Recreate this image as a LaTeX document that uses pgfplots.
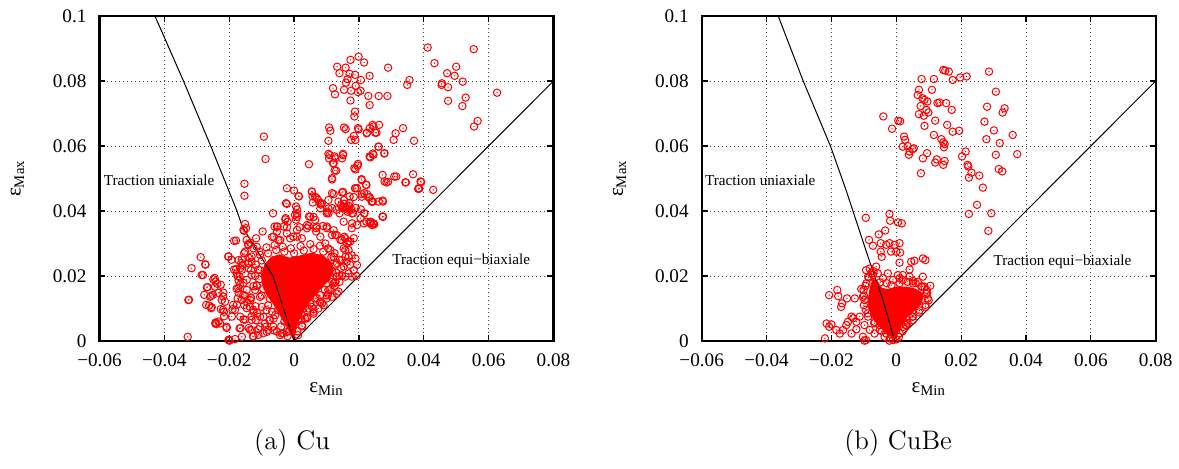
\documentclass[border=0pt]{standalone}
\usepackage{fontspec}
\usepackage{pgfplots}
\pgfplotsset{compat=1.18}
\newfontfamily\pf{Liberation Serif}
\pgfdeclareplotmark{cdot}{%
  \pgfpathcircle{\pgfpointorigin}{\pgfplotmarksize}\pgfusepathqstroke
  \pgfpathcircle{\pgfpointorigin}{0.35pt}\pgfusepathqfill}
\tikzset{lab/.style={font=\pf\fontsize{7.6}{9}\selectfont, anchor=west, inner sep=0pt}}
\pgfplotsset{
  myax/.style={
    scale only axis, width=227pt, height=162.5pt,
    xmin=-0.06,xmax=0.08,ymin=0,ymax=0.1,
    xtick={-0.06,-0.04,-0.02,0,0.02,0.04,0.06,0.08},
    xticklabels={−0.06,−0.04,−0.02,0,0.02,0.04,0.06,0.08},
    ytick={0,0.02,0.04,0.06,0.08,0.1},
    yticklabels={0,0.02,0.04,0.06,0.08,0.1},
    scaled ticks=false,
    grid=major,
    grid style={black!75, line width=0.45pt, dash pattern=on 0.5pt off 1.5pt},
    axis line style={line width=1.1pt},
    tick style={black, line width=0.6pt},
    major tick length=3pt,
    tick align=inside,
    tick label style={font=\pf\fontsize{9.6}{11}\selectfont},
    xticklabel style={yshift=-3pt},
    yticklabel style={xshift=-3pt},
    xlabel={ε\textsubscript{Min}},
    ylabel={ε\textsubscript{Max}},
    label style={font=\pf\fontsize{10.5}{12}\selectfont},
    xlabel style={at={(axis description cs:0.5,-0.148)}, anchor=center},
    ylabel style={at={(axis description cs:-0.1806,0.5)}, anchor=center},
    clip=false,
  },
  pts/.style={only marks, mark=cdot, mark size=1.85pt, mark options={draw=red, fill=red, line width=0.5pt}},
  core/.style={fill=red, draw=red, line width=0.5pt, mark=none},
  thin/.style={black, line width=0.5pt, mark=none},
}
\begin{document}
\begin{tikzpicture}
\useasboundingbox (0,0) rectangle (589.5pt,234pt);
% ---------------- (a) Cu ----------------
\begin{axis}[myax, at={(49.75pt,63.5pt)}, anchor=south west]
\addplot[core] coordinates {(-0.0003,0.0010) (-0.0020,0.0040) (-0.0040,0.0075) (-0.0062,0.0112) (-0.0085,0.0145) (-0.0098,0.0175) (-0.0100,0.0205) (-0.0090,0.0235) (-0.0070,0.0258) (-0.0045,0.0265) (-0.0015,0.0255) (0.0020,0.0262) (0.0055,0.0270) (0.0090,0.0262) (0.0115,0.0240) (0.0120,0.0210) (0.0105,0.0185) (0.0080,0.0160) (0.0055,0.0130) (0.0030,0.0095) (0.0012,0.0060) (0.0003,0.0025)} -- cycle;
\addplot[pts] table {
x y
0.0412 0.0903
0.0554 0.0898
0.0433 0.0855
0.0500 0.0844
0.0472 0.0824
0.0495 0.0816
0.0356 0.0803
0.0349 0.0788
0.0455 0.0788
0.0456 0.0793
0.0475 0.0781
0.0520 0.0798
0.0626 0.0764
0.0529 0.0749
0.0475 0.0739
0.0519 0.0723
0.0566 0.0677
0.0555 0.0660
0.0290 0.0841
0.0261 0.0754
0.0288 0.0754
0.0229 0.0754
0.0233 0.0726
0.0233 0.0816
0.0216 0.0857
0.0199 0.0875
0.0174 0.0865
0.0133 0.0844
0.0159 0.0841
0.0140 0.0824
0.0171 0.0822
0.0188 0.0819
0.0165 0.0806
0.0160 0.0795
0.0206 0.0803
0.0190 0.0785
0.0154 0.0773
0.0176 0.0770
0.0197 0.0766
0.0205 0.0770
0.0120 0.0778
0.0126 0.0759
0.0174 0.0740
0.0188 0.0706
0.0186 0.0691
0.0108 0.0657
0.0112 0.0647
0.0154 0.0657
0.0159 0.0652
0.0197 0.0655
0.0233 0.0655
0.0242 0.0665
0.0262 0.0665
0.0250 0.0641
0.0224 0.0639
0.0184 0.0631
0.0176 0.0619
0.0313 0.0639
0.0307 0.0619
0.0336 0.0655
0.0370 0.0616
0.0106 0.0616
0.0261 0.0598
0.0233 0.0568
0.0245 0.0573
0.0279 0.0578
0.0106 0.0576
0.0108 0.0562
0.0125 0.0568
0.0151 0.0576
0.0148 0.0562
0.0120 0.0547
0.0197 0.0545
0.0186 0.0532
0.0125 0.0525
0.0046 0.0544
-0.0093 0.0629
-0.0088 0.0560
0.0117 0.0501
0.0208 0.0498
0.0222 0.0481
0.0273 0.0511
0.0279 0.0491
0.0285 0.0488
0.0315 0.0506
0.0345 0.0488
0.0367 0.0513
0.0390 0.0491
0.0383 0.0468
0.0429 0.0465
0.0188 0.0470
0.0117 0.0455
0.0148 0.0457
0.0216 0.0455
0.0233 0.0443
0.0239 0.0429
0.0273 0.0432
0.0273 0.0383
0.0233 0.0365
0.0245 0.0361
0.0205 0.0378
0.0190 0.0409
0.0216 0.0393
0.0137 0.0429
0.0154 0.0434
0.0171 0.0424
0.0163 0.0412
0.0148 0.0409
0.0176 0.0405
0.0165 0.0398
0.0182 0.0393
0.0140 0.0393
0.0154 0.0422
0.0131 0.0404
0.0171 0.0445
0.0158 0.0408
0.0145 0.0418
0.0168 0.0416
0.0074 0.0434
0.0085 0.0424
0.0057 0.0445
0.0102 0.0398
0.0106 0.0393
0.0117 0.0409
0.0000 0.0463
0.0015 0.0445
-0.0025 0.0424
0.0006 0.0414
0.0003 0.0388
0.0055 0.0460
0.0046 0.0383
0.0006 0.0373
-0.0065 0.0393
-0.0153 0.0484
-0.0153 0.0447
-0.0026 0.0378
-0.0051 0.0352
-0.0097 0.0337
-0.0154 0.0339
-0.0179 0.0309
-0.0142 0.0298
-0.0288 0.0258
-0.0273 0.0235
-0.0316 0.0224
-0.0285 0.0203
-0.0324 0.0127
-0.0328 0.0013
-0.0201 0.0004
-0.0182 0.0006
-0.0203 0.0260
-0.0193 0.0250
-0.0245 0.0194
-0.0242 0.0183
-0.0226 0.0173
-0.0267 0.0166
-0.0277 0.0142
-0.0256 0.0139
-0.0233 0.0148
-0.0219 0.0137
-0.0262 0.0109
-0.0256 0.0101
-0.0219 0.0096
-0.0216 0.0076
-0.0242 0.0057
-0.0233 0.0060
-0.0208 0.0040
-0.0190 0.0098
-0.0176 0.0112
-0.0171 0.0148
-0.0167 0.0173
-0.0174 0.0199
-0.0179 0.0221
-0.0163 0.0240
-0.0154 0.0270
-0.0137 0.0255
-0.0151 0.0066
-0.0165 0.0040
-0.0140 0.0040
-0.0125 0.0014
-0.0131 0.0076
-0.0114 0.0086
-0.0119 0.0107
-0.0145 0.0119
-0.0133 0.0132
0.0199 0.0651
0.0189 0.0618
0.0225 0.0641
0.0245 0.0660
0.0254 0.0641
0.0110 0.0572
0.0127 0.0562
0.0122 0.0547
0.0151 0.0572
0.0130 0.0524
0.0117 0.0497
0.0189 0.0528
0.0196 0.0540
0.0243 0.0577
0.0235 0.0565
0.0260 0.0598
0.0278 0.0577
0.0290 0.0490
0.0309 0.0506
0.0343 0.0488
0.0384 0.0470
0.0209 0.0495
0.0223 0.0480
0.0189 0.0470
0.0209 0.0452
0.0230 0.0442
0.0240 0.0429
0.0274 0.0383
0.0217 0.0393
0.0206 0.0405
0.0223 0.0367
0.0235 0.0362
0.0247 0.0359
0.0151 0.0459
0.0122 0.0452
0.0055 0.0459
0.0070 0.0439
0.0058 0.0426
0.0083 0.0420
0.0081 0.0408
0.0106 0.0408
0.0101 0.0393
0.0009 0.0391
0.0050 0.0383
0.0065 0.0372
0.0045 0.0354
0.0068 0.0347
-0.0027 0.0374
-0.0022 0.0350
0.0017 0.0350
-0.0060 0.0352
-0.0117 0.0316
-0.0151 0.0360
-0.0156 0.0342
0.0101 0.0352
0.0122 0.0341
0.0132 0.0326
0.0178 0.0347
0.0194 0.0357
0.0158 0.0316
0.0168 0.0306
0.0184 0.0316
0.0243 0.0429
0.0274 0.0429
0.0274 0.0382
0.0245 0.0360
0.0392 0.0489
0.0386 0.0469
-0.0244 0.0167
-0.0250 0.0142
-0.0240 0.0052
-0.0228 0.0054
-0.0216 0.0090
-0.0213 0.0121
-0.0202 0.0003
-0.0185 0.0220
-0.0171 0.0186
-0.0174 0.0131
-0.0177 0.0161
-0.0185 0.0308
-0.0161 0.0251
-0.0158 0.0234
-0.0161 0.0219
-0.0168 0.0198
-0.0156 0.0179
-0.0146 0.0157
-0.0151 0.0139
-0.0154 0.0111
-0.0156 0.0066
-0.0136 0.0034
-0.0161 0.0013
-0.0127 0.0015
-0.0110 0.0036
-0.0118 0.0064
-0.0125 0.0090
-0.0136 0.0105
-0.0133 0.0134
-0.0125 0.0169
-0.0141 0.0239
-0.0133 0.0218
-0.0148 0.0347
-0.0135 0.0302
-0.0125 0.0285
-0.0107 0.0275
-0.0105 0.0136
-0.0099 0.0105
-0.0094 0.0074
-0.0089 0.0043
-0.0076 0.0064
-0.0068 0.0090
-0.0063 0.0033
-0.0063 0.0069
-0.0084 0.0028
-0.0038 0.0023
-0.0022 0.0028
-0.0022 0.0470
-0.0020 0.0367
0.0009 0.0405
0.0009 0.0382
0.0014 0.0446
-0.0022 0.0422
-0.0032 0.0352
-0.0053 0.0336
-0.0068 0.0320
-0.0048 0.0310
-0.0002 0.0321
0.0009 0.0342
0.0024 0.0316
0.0040 0.0347
0.0060 0.0382
0.0065 0.0444
0.0080 0.0424
0.0106 0.0434
0.0089 0.0354
0.0068 0.0337
0.0096 0.0300
0.0127 0.0326
0.0153 0.0367
0.0178 0.0393
0.0153 0.0413
0.0163 0.0405
0.0184 0.0443
0.0209 0.0444
0.0194 0.0470
0.0225 0.0452
0.0215 0.0362
0.0236 0.0367
0.0245 0.0362
0.0261 0.0429
0.0155 0.0321
0.0147 0.0311
0.0163 0.0300
0.0173 0.0306
0.0153 0.0285
0.0168 0.0280
0.0158 0.0259
0.0178 0.0264
0.0163 0.0244
0.0173 0.0234
0.0153 0.0229
0.0184 0.0218
0.0168 0.0208
0.0158 0.0198
0.0178 0.0198
0.0194 0.0234
0.0189 0.0254
0.0147 0.0249
0.0192 0.0200
0.0137 0.0152
0.0140 0.0182
0.0122 0.0177
0.0106 0.0157
0.0101 0.0131
0.0086 0.0115
0.0075 0.0100
0.0060 0.0090
0.0040 0.0074
0.0024 0.0080
0.0029 0.0100
0.0050 0.0115
0.0065 0.0131
0.0080 0.0141
0.0112 0.0280
0.0122 0.0259
0.0132 0.0239
0.0117 0.0214
0.0132 0.0198
-0.0274 0.0236
-0.0281 0.0203
-0.0249 0.0190
-0.0237 0.0176
-0.0269 0.0165
-0.0326 0.0126
-0.0259 0.0136
-0.0271 0.0111
-0.0254 0.0104
-0.0223 0.0126
-0.0218 0.0149
-0.0226 0.0098
-0.0243 0.0054
-0.0208 0.0044
-0.0199 0.0001
-0.0188 0.0111
-0.0182 0.0096
-0.0192 0.0075
-0.0166 0.0075
-0.0168 0.0039
-0.0161 0.0126
-0.0172 0.0162
-0.0156 0.0142
-0.0135 0.0126
-0.0146 0.0101
-0.0126 0.0096
-0.0131 0.0065
-0.0105 0.0075
-0.0131 0.0034
-0.0110 0.0019
-0.0095 0.0024
-0.0079 0.0034
-0.0090 0.0054
-0.0074 0.0065
-0.0105 0.0044
-0.0064 0.0044
-0.0053 0.0029
-0.0043 0.0018
-0.0033 0.0024
-0.0202 0.0260
-0.0171 0.0249
-0.0166 0.0224
-0.0177 0.0208
-0.0151 0.0275
-0.0131 0.0260
-0.0141 0.0224
-0.0146 0.0188
-0.0131 0.0203
-0.0115 0.0290
-0.0146 0.0311
-0.0141 0.0295
-0.0131 0.0244
-0.0115 0.0172
-0.0105 0.0218
-0.0120 0.0157
0.0112 0.0160
0.0127 0.0181
0.0148 0.0201
0.0101 0.0140
0.0081 0.0119
0.0055 0.0105
0.0117 0.0136
0.0132 0.0146
0.0091 0.0110
0.0060 0.0084
0.0034 0.0069
0.0024 0.0048
0.0014 0.0069
-0.0053 0.0352
0.0040 0.0357
0.0070 0.0352
0.0101 0.0347
0.0081 0.0321
0.0117 0.0326
0.0143 0.0311
0.0158 0.0280
0.0168 0.0259
0.0179 0.0362
0.0240 0.0357
-0.0022 0.0331
-0.0043 0.0311
-0.0012 0.0316
-0.0063 0.0321
0.0009 0.0321
-0.0015 0.0030
-0.0030 0.0060
-0.0050 0.0095
-0.0075 0.0130
-0.0095 0.0160
-0.0108 0.0190
-0.0110 0.0220
-0.0100 0.0248
-0.0080 0.0270
-0.0055 0.0280
-0.0030 0.0275
0.0000 0.0270
0.0030 0.0278
0.0060 0.0283
0.0090 0.0275
0.0115 0.0258
0.0128 0.0235
0.0130 0.0210
0.0118 0.0182
0.0095 0.0158
0.0070 0.0132
0.0045 0.0100
0.0022 0.0065
0.0010 0.0030
-0.0020 0.0015
-0.0040 0.0045
-0.0058 0.0080
-0.0080 0.0110
-0.0100 0.0140
-0.0115 0.0170
-0.0120 0.0200
-0.0118 0.0235
-0.0105 0.0265
-0.0085 0.0288
-0.0060 0.0295
-0.0035 0.0290
-0.0010 0.0285
0.0020 0.0292
0.0050 0.0298
0.0080 0.0293
0.0105 0.0285
0.0125 0.0270
0.0140 0.0250
0.0145 0.0225
0.0140 0.0200
0.0125 0.0170
0.0105 0.0145
0.0080 0.0120
0.0060 0.0098
0.0040 0.0070
0.0025 0.0045
0.0012 0.0018
-0.0045 0.0105
-0.0065 0.0140
-0.0085 0.0095
};
\addplot[thin] coordinates {(0,0) (-0.0065,0.02) (-0.0159,0.035) (-0.0176,0.04) (-0.0257,0.06) (-0.0341,0.08) (-0.0429,0.1)};
\addplot[thin] coordinates {(0,0) (0.08,0.08)};
\node[lab] at (axis cs:-0.0588,0.0495) {Traction uniaxiale};
\node[lab] at (axis cs:0.0302,0.0247) {Traction equi−biaxiale};
\end{axis}
% ---------------- (b) CuBe ----------------
\begin{axis}[myax, at={(350.85pt,63.5pt)}, anchor=south west]
\addplot[core] coordinates {(-0.0008,0.0008) (-0.0033,0.0027) (-0.0058,0.0052) (-0.0076,0.0078) (-0.0085,0.0106) (-0.0085,0.0136) (-0.0080,0.0165) (-0.0072,0.0190) (-0.0060,0.0185) (-0.0045,0.0162) (-0.0025,0.0158) (0.0000,0.0166) (0.0030,0.0166) (0.0058,0.0160) (0.0076,0.0150) (0.0082,0.0133) (0.0075,0.0113) (0.0058,0.0097) (0.0040,0.0083) (0.0024,0.0063) (0.0010,0.0038) (-0.0001,0.0012)} -- cycle;
\addplot[pts] table {
x y
0.0286 0.0829
0.0145 0.0834
0.0151 0.0832
0.0162 0.0829
0.0217 0.0814
0.0197 0.0811
0.0174 0.0803
0.0116 0.0806
0.0078 0.0806
0.0307 0.0767
0.0110 0.0773
0.0070 0.0773
0.0066 0.0757
0.0081 0.0747
0.0087 0.0742
0.0096 0.0737
0.0127 0.0732
0.0133 0.0734
0.0154 0.0732
0.0171 0.0711
0.0075 0.0723
0.0093 0.0711
0.0099 0.0703
0.0070 0.0698
0.0085 0.0693
0.0280 0.0721
0.0334 0.0716
0.0328 0.0703
-0.0040 0.0691
0.0006 0.0678
0.0012 0.0676
-0.0013 0.0653
0.0120 0.0678
0.0087 0.0662
0.0157 0.0665
0.0174 0.0644
0.0194 0.0647
0.0272 0.0675
0.0301 0.0648
0.0116 0.0634
0.0139 0.0621
0.0145 0.0611
0.0149 0.0606
0.0147 0.0596
0.0278 0.0621
0.0319 0.0609
0.0359 0.0634
0.0373 0.0575
0.0024 0.0629
0.0027 0.0619
0.0020 0.0598
0.0035 0.0600
0.0041 0.0583
0.0039 0.0573
0.0050 0.0590
0.0054 0.0593
0.0095 0.0578
0.0082 0.0562
0.0120 0.0549
0.0125 0.0559
0.0149 0.0554
0.0145 0.0542
0.0076 0.0516
0.0203 0.0568
0.0214 0.0583
0.0220 0.0542
0.0222 0.0537
0.0232 0.0518
0.0256 0.0509
0.0224 0.0503
0.0267 0.0472
0.0307 0.0573
0.0316 0.0529
0.0327 0.0522
0.0249 0.0419
0.0224 0.0391
0.0293 0.0393
0.0284 0.0339
-0.0094 0.0379
-0.0021 0.0391
-0.0019 0.0370
0.0005 0.0365
0.0017 0.0362
-0.0054 0.0328
-0.0034 0.0340
-0.0084 0.0311
-0.0072 0.0293
-0.0048 0.0301
-0.0031 0.0296
-0.0021 0.0301
-0.0005 0.0296
0.0010 0.0301
-0.0048 0.0275
-0.0045 0.0259
-0.0016 0.0275
0.0000 0.0275
0.0012 0.0272
0.0010 0.0241
0.0046 0.0244
0.0056 0.0247
0.0082 0.0254
0.0090 0.0249
0.0041 0.0220
0.0020 0.0203
0.0010 0.0193
0.0082 0.0198
0.0051 0.0185
0.0105 0.0170
0.0087 0.0167
0.0092 0.0145
-0.0093 0.0218
-0.0082 0.0223
-0.0077 0.0208
-0.0087 0.0198
-0.0108 0.0160
-0.0103 0.0136
-0.0128 0.0131
-0.0152 0.0131
-0.0167 0.0116
-0.0170 0.0105
-0.0182 0.0157
-0.0207 0.0141
-0.0179 0.0138
-0.0215 0.0054
-0.0207 0.0044
-0.0200 0.0051
-0.0220 0.0008
-0.0185 0.0034
-0.0174 0.0023
-0.0164 0.0034
-0.0154 0.0049
-0.0149 0.0059
-0.0133 0.0070
-0.0138 0.0075
-0.0123 0.0059
-0.0113 0.0075
-0.0098 0.0049
-0.0123 0.0036
-0.0138 0.0023
-0.0103 0.0013
-0.0093 0.0003
-0.0098 0.0001
-0.0082 0.0034
-0.0067 0.0023
-0.0051 0.0049
-0.0031 0.0023
-0.0021 0.0001
-0.0010 0.0003
0.0031 0.0049
0.0025 0.0059
0.0051 0.0075
-0.0092 0.0178
-0.0101 0.0157
-0.0098 0.0126
-0.0094 0.0096
-0.0087 0.0075
-0.0067 0.0059
-0.0051 0.0034
-0.0036 0.0013
-0.0072 0.0203
-0.0062 0.0229
-0.0057 0.0208
-0.0041 0.0193
-0.0026 0.0208
-0.0010 0.0188
0.0005 0.0203
0.0020 0.0188
0.0041 0.0198
0.0051 0.0177
0.0066 0.0182
0.0077 0.0167
0.0094 0.0157
0.0097 0.0131
0.0090 0.0111
0.0072 0.0094
0.0051 0.0090
0.0031 0.0075
0.0022 0.0044
0.0010 0.0024
0.0000 0.0005
0.0051 0.0064
0.0029 0.0049
-0.0020 0.0008
-0.0045 0.0030
-0.0068 0.0055
-0.0088 0.0085
-0.0100 0.0110
-0.0100 0.0140
-0.0095 0.0170
-0.0085 0.0195
-0.0070 0.0215
-0.0050 0.0180
-0.0030 0.0178
-0.0015 0.0172
0.0010 0.0178
0.0035 0.0182
0.0060 0.0178
0.0080 0.0168
0.0095 0.0148
0.0100 0.0125
0.0090 0.0105
0.0070 0.0088
0.0050 0.0075
0.0035 0.0055
0.0020 0.0030
0.0008 0.0012
};
\addplot[thin] coordinates {(-0.0005,0) (-0.0041,0.0126) (-0.0082,0.0244) (-0.0155,0.0465) (-0.0203,0.06) (-0.0287,0.08) (-0.0364,0.1)};
\addplot[thin] coordinates {(0,0) (0.08,0.08)};
\node[lab] at (axis cs:-0.0591,0.0495) {Traction uniaxiale};
\node[lab] at (axis cs:0.0299,0.0244) {Traction equi−biaxiale};
\end{axis}
\node[font=\fontsize{13.4}{16}\selectfont] at (146pt,12.5pt) {(a) Cu};
\node[font=\fontsize{13.4}{16}\selectfont] at (449pt,12.5pt) {(b) CuBe};
\end{tikzpicture}
\end{document}
